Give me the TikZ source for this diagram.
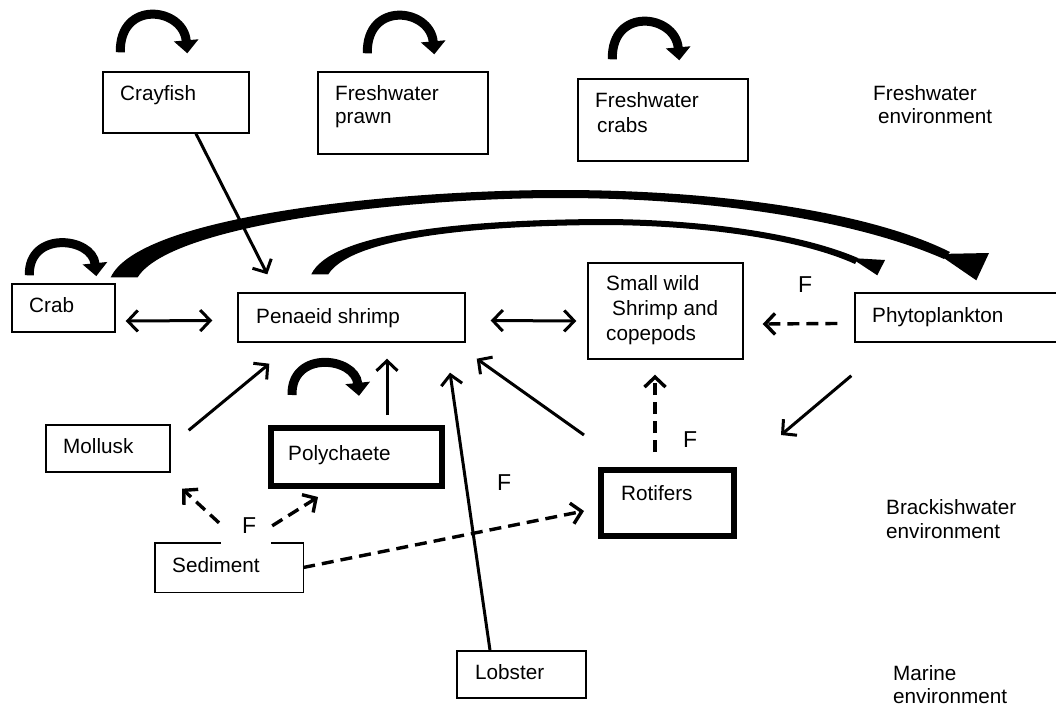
\documentclass[tikz,border=0pt]{standalone}
\usepackage{fontspec}
\setmainfont{Liberation Sans}
\usetikzlibrary{arrows.meta,calc}
\begin{document}
\begin{tikzpicture}[x=1pt,y=-1pt,
  box/.style={draw, line width=1.4pt, inner sep=0pt, rectangle},
  thickbox/.style={draw, line width=6pt, inner sep=0pt, rectangle},
  plain/.style={inner sep=0pt, rectangle},
  txt/.style={anchor=base west, inner sep=0pt, font=\fontsize{20.7}{24}\selectfont},
  flab/.style={anchor=base west, inner sep=0pt, font=\fontsize{23}{27}\selectfont},
  arr/.style={line width=3pt, -{Straight Barb[length=10pt,width=21pt]}},
  darr/.style={line width=3pt, {Straight Barb[length=10pt,width=21pt]}-{Straight Barb[length=10pt,width=21pt]}},
  dash arr/.style={line width=3.4pt, -{Straight Barb[length=10pt,width=21pt]}, dash pattern=on 12pt off 7pt},
  loopar/.style={line width=9pt, -{Triangle[length=13pt,width=24pt]}},
]
\useasboundingbox (0,0) rectangle (1056,706);

% boxes
\node[box, minimum width=146pt, minimum height=61pt] (crayfish) at (176,102.5) {};
\node[box, minimum width=170pt, minimum height=82pt] (prawn) at (403,113) {};
\node[box, minimum width=170pt, minimum height=82pt] (fwcrabs) at (663,120) {};
\node[box, minimum width=103pt, minimum height=48pt] (crab) at (63.5,308) {};
\node[box, minimum width=227pt, minimum height=49pt] (penaeid) at (351.5,317.5) {};
\node[box, minimum width=155pt, minimum height=96pt] (small) at (665.5,311) {};
\node[box, minimum width=207pt, minimum height=49pt] (phyto) at (958.5,317.5) {};
\node[box, minimum width=124pt, minimum height=47pt] (mollusk) at (108,448.5) {};
\node[thickbox, minimum width=171pt, minimum height=58pt] (poly) at (356.5,457) {};
\node[plain, minimum width=148pt, minimum height=49pt] (sediment) at (229,567.5) {};
\draw[line width=1.4pt] ($(sediment.north west)+(66,0)$) -- (sediment.north west) -- (sediment.south west)
  -- (sediment.south east) -- (sediment.north east) -- ++(-32,0);
\node[box, minimum width=129pt, minimum height=47pt] (lobster) at (521.5,674.5) {};
\node[thickbox, minimum width=133pt, minimum height=66pt] (rotifers) at (667.5,503) {};

% self loops
\draw[loopar, shift={($(crayfish.north west)+(18,-19)$)}] (0,0) .. controls (-1,-53) and (63,-45) .. (67,1);
\draw[loopar, shift={($(prawn.north west)+(50,-18)$)}] (0,0) .. controls (-1,-53) and (63,-45) .. (67,1);
\draw[loopar, shift={($(fwcrabs.north west)+(35,-19)$)}] (0,0) .. controls (-1,-53) and (63,-45) .. (67,1);
\draw[loopar, shift={($(crab.north west)+(18,-8)$)}, yscale=0.85] (0,0) .. controls (-1,-53) and (63,-45) .. (67,1);
\draw[loopar, shift={($(poly.north west)+(24,-30)$)}, yscale=0.85] (0,0) .. controls (-1,-53) and (63,-45) .. (67,1);

% big tapered arrows
\coordinate (b1a) at ($(crab.north east)+(-5,-6)$);
\coordinate (b1b) at ($(crab.north east)+(22,-6)$);
\coordinate (b1t) at ($(phyto.north west)+(122,-12)$);
\fill (b1a) .. controls (140,215) and (400,190) .. (560,190)
  .. controls (720,190) and (870,212) .. (950,252) -- (944,259)
  .. controls (860,222) and (720,198) .. (560,198)
  .. controls (400,198) and (170,225) .. (b1b) -- cycle;
\fill (938,254) -- (989,253) -- (b1t) -- cycle;

\coordinate (b2a) at ($(penaeid.north west)+(74,-18)$);
\coordinate (b2b) at ($(penaeid.north west)+(91,-18)$);
\coordinate (b2t) at ($(phyto.north west)+(23,-17)$);
\fill (b2a) .. controls (330,235) and (450,220) .. (600,219)
  .. controls (700,219) and (800,233) .. (858,258) -- (855,264)
  .. controls (800,239) and (700,225) .. (600,225)
  .. controls (460,226) and (350,240) .. (b2b) -- cycle;
\fill (851,258) -- (885,260) -- (b2t) -- cycle;

% straight connectors
\draw[arr] ($(crayfish.south)+(20,0)$) -- ($(penaeid.north west)+(30,-18)$);
\draw[darr] ($(crab.east)+(10,13)$) -- ($(penaeid.west)+(-25,3)$);
\draw[darr] ($(penaeid.east)+(25,3)$) -- ($(small.west)+(-11,10)$);
\draw[dash arr] ($(phyto.west)+(-17,6)$) -- ($(small.east)+(19,13)$);
\draw[arr] ($(phyto.south west)+(-3,33)$) -- ($(rotifers.north east)+(44,-32)$);
\draw[dash arr] ($(rotifers.north)+(-12.5,-15)$) -- ($(small.south)+(-10.5,15)$);
\draw[arr] ($(rotifers.north west)+(-14,-32)$) -- ($(penaeid.south east)+(11,16)$);
\draw[arr] ($(lobster.north)+(-31.5,0)$) -- ($(penaeid.south)+(98.5,30)$);
\draw[arr] ($(poly.north)+(30.5,-10)$) -- ($(penaeid.south)+(35.5,16)$);
\draw[arr] ($(mollusk.north east)+(18,6)$) -- ($(penaeid.south west)+(32,21)$);
\draw[dash arr] ($(sediment.north)+(-10,-20)$) -- ($(mollusk.south)+(74,16)$);
\draw[dash arr] ($(sediment.north east)+(-31,-17)$) -- ($(poly.south)+(-38.5,8)$);
\draw[dash arr] (sediment.east) -- ($(rotifers.west)+(-14,8)$);

% texts
\node[txt] (t1) at (120,100) {Crayfish};
\node[txt] (t2a) at (335,100) {Freshwater};
\node[txt] (t2b) at (335,123) {prawn};
\node[txt] (t3a) at (595,107) {Freshwater};
\node[txt] (t3b) at (597,132) {crabs};
\node[txt] (t4a) at (873,100) {Freshwater};
\node[txt] (t4b) at (878,124) {environment};
\node[txt] (t5) at (29,312) {Crab};
\node[txt] (t6) at (256,323) {Penaeid shrimp};
\node[txt] (t7a) at (606,290) {Small wild};
\node[txt] (t7b) at (612,315) {Shrimp and};
\node[txt] (t7c) at (606,340) {copepods};
\node[txt] (t8) at (872,322) {Phytoplankton};
\node[txt] (t9) at (63,453) {Mollusk};
\node[txt] (t10) at (288,460) {Polychaete};
\node[txt] (t11) at (621,500) {Rotifers};
\node[txt] (t12) at (172,572) {Sediment};
\node[txt] (t13) at (475,679) {Lobster};
\node[txt] (t14a) at (886,514) {Brackishwater};
\node[txt] (t14b) at (886,538) {environment};
\node[txt] (t15a) at (893,680) {Marine};
\node[txt] (t15b) at (893,703) {environment};

\node[flab] (f1) at (798,292) {F};
\node[flab] (f2) at (683,447) {F};
\node[flab] (f3) at (497,490) {F};
\node[flab] (f4) at (242,533) {F};
\end{tikzpicture}
\end{document}
